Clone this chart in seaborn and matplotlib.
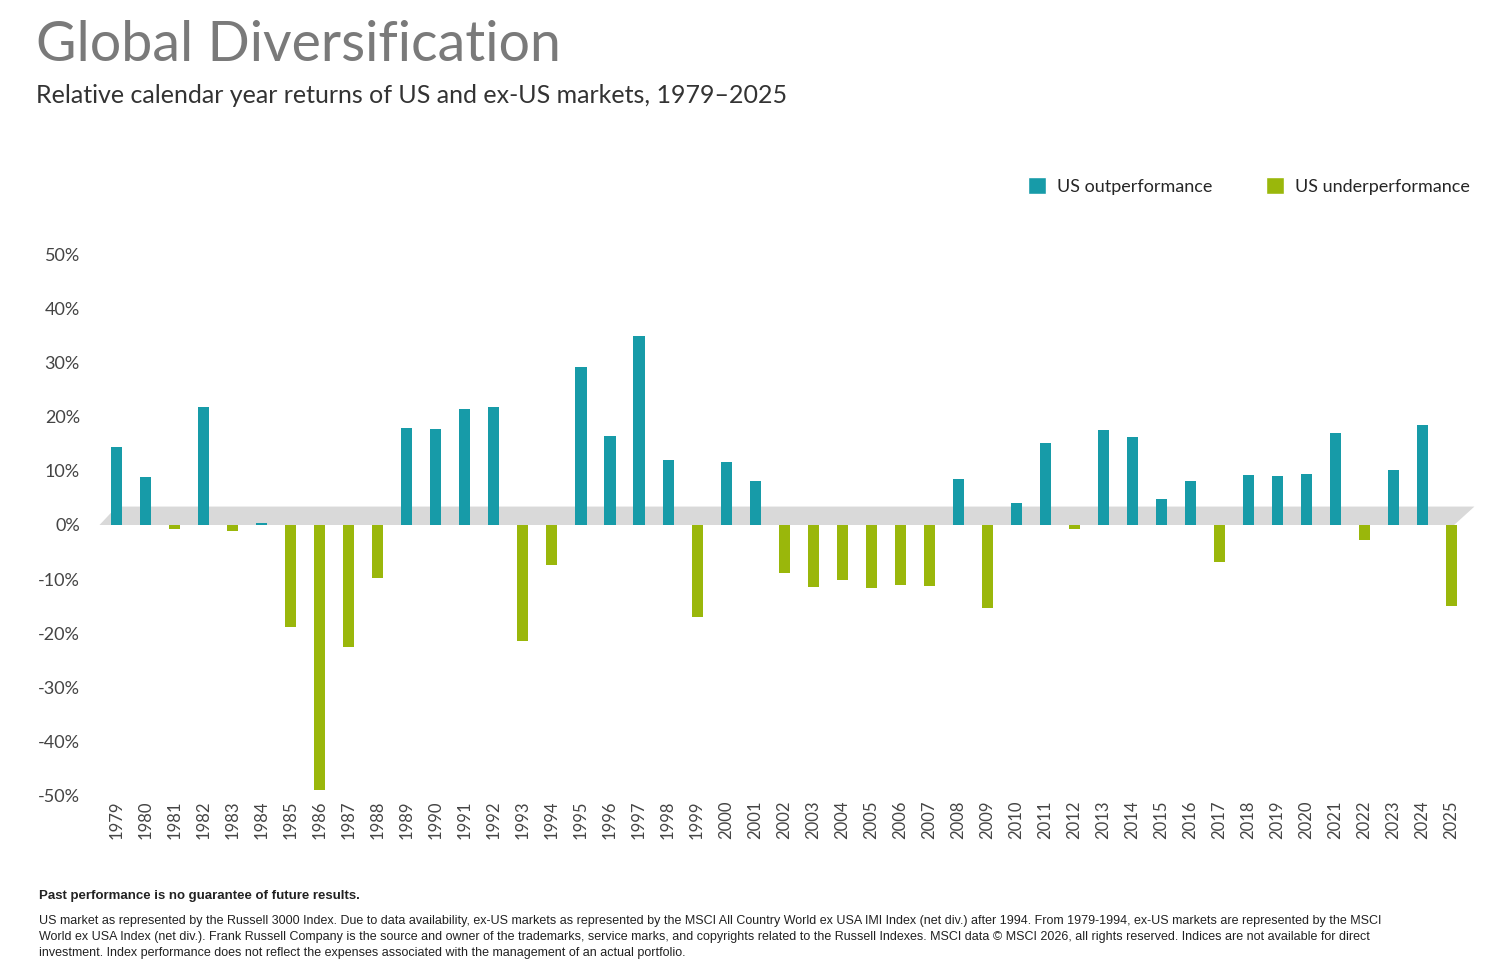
import matplotlib
matplotlib.use("Agg")
import matplotlib.pyplot as plt
import seaborn as sns
import pandas as pd
from matplotlib.patches import Polygon, Patch

years = list(range(1979, 2026))
values = [14.4, 8.9, -0.8, 21.8, -1.2, 0.4, -18.8, -48.9, -22.5, -9.8,
          17.9, 17.7, 21.4, 21.8, -21.4, -7.4, 29.2, 16.4, 34.9, 12.0,
          -17.0, 11.6, 8.1, -8.9, -11.4, -10.1, -11.6, -11.1, -11.3, 8.5,
          -15.3, 4.1, 15.1, -0.8, 17.5, 16.2, 4.8, 8.1, -6.8, 9.2,
          9.0, 9.4, 17.0, -2.8, 10.1, 18.5, -14.9]
labels = ["US outperformance", "US underperformance"]
colors = ["#179ba8", "#9ab70b"]

df = pd.DataFrame({"year": [str(y) for y in years], "value": values})
df["group"] = [labels[0] if v >= 0 else labels[1] for v in values]

sns.set_style("white")
plt.rcParams["font.family"] = ["Lato", "DejaVu Sans"]

fig = plt.figure(figsize=(15.09, 9.77), dpi=100)
ax = fig.add_axes([0.064, 0.1853, 0.915, 0.5547])

ax.add_patch(Polygon([(-0.6, 0), (0.0, 3.4), (46.8, 3.4), (46.1, 0)],
                     closed=True, facecolor="#d9d9d9", edgecolor="none", zorder=0))
sns.barplot(data=df, x="year", y="value", hue="group", hue_order=labels,
            palette=colors, saturation=1, dodge=False, width=0.38, ax=ax,
            legend=False, linewidth=0, zorder=2)

ax.set_ylim(-50, 50)
ax.set_xlim(-0.7, 46.9)
ax.set_yticks(range(-50, 51, 10))
ax.set_yticklabels([f"{t}%" for t in range(-50, 51, 10)], fontsize=13, color="#444444")
ax.tick_params(axis="x", labelrotation=90, labelsize=12, labelcolor="#444444", length=0)
ax.tick_params(axis="y", length=0, pad=12)
ax.set_xlabel("")
ax.set_ylabel("")
for s in ax.spines.values():
    s.set_visible(False)

fig.text(0.024, 0.938, "Global Diversification", fontsize=40, color="#7a7a7a")
fig.text(0.024, 0.895, "Relative calendar year returns of US and ex-US markets, 1979\u20132025",
         fontsize=18, color="#333333")

handles = [Patch(facecolor=c, label=l) for c, l in zip(colors, labels)]
fig.legend(handles=handles, loc="upper right", bbox_to_anchor=(0.985, 0.835), ncol=2,
           frameon=False, fontsize=13, handlelength=1.0, handleheight=1.0,
           columnspacing=3.0, handletextpad=0.6)

fig.text(0.026, 0.080, "Past performance is no guarantee of future results.",
         fontsize=9.5, fontweight="bold", family=["Liberation Sans"], color="#222222")
foot = ("US market as represented by the Russell 3000 Index. Due to data availability, ex-US markets as represented by the MSCI All Country World ex USA IMI Index (net div.) after 1994. From 1979-1994, ex-US markets are represented by the MSCI\n"
        "World ex USA Index (net div.). Frank Russell Company is the source and owner of the trademarks, service marks, and copyrights related to the Russell Indexes. MSCI data \u00a9 MSCI 2026, all rights reserved. Indices are not available for direct\n"
        "investment. Index performance does not reflect the expenses associated with the management of an actual portfolio.")
fig.text(0.026, 0.022, foot, fontsize=9.0, family=["Liberation Sans"], color="#222222",
         linespacing=1.4)

fig.savefig("out.png", dpi=100)
